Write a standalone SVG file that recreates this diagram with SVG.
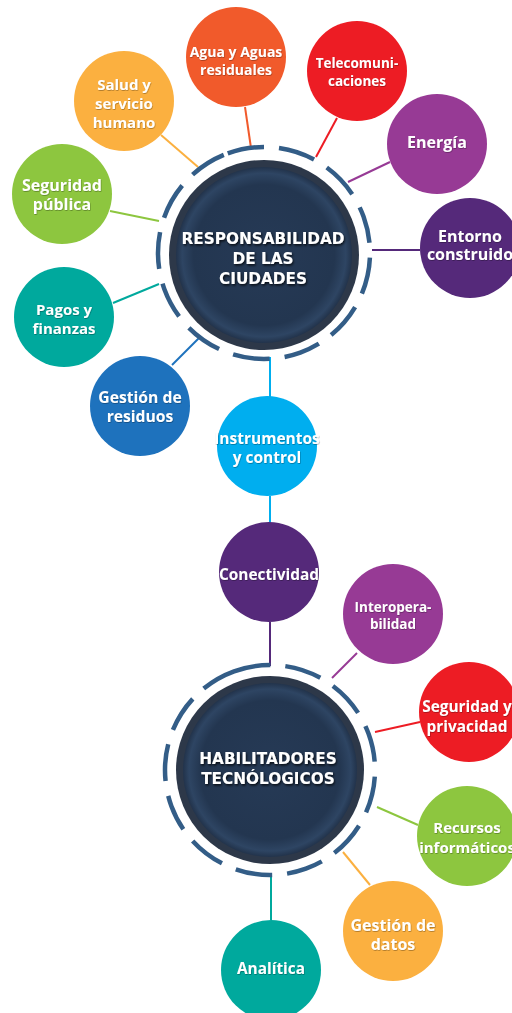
<svg xmlns="http://www.w3.org/2000/svg" width="512" height="1013" viewBox="0 0 512 1013">
<defs>
<radialGradient id="hubFill" cx="0.5" cy="0.5" r="0.5">
<stop offset="0" stop-color="#263a56"/>
<stop offset="0.8" stop-color="#233650"/>
<stop offset="0.93" stop-color="#2e4563"/>
<stop offset="1" stop-color="#22334b"/>
</radialGradient>
<filter id="ts" x="-10%" y="-30%" width="120%" height="160%">
<feDropShadow dx="1" dy="1.5" stdDeviation="1" flood-color="#000" flood-opacity="0.8"/>
</filter>
<filter id="ts2" x="-10%" y="-30%" width="120%" height="160%">
<feDropShadow dx="0.5" dy="0.8" stdDeviation="0.6" flood-color="#000" flood-opacity="0.35"/>
</filter>
</defs>
<style>
.ring{fill:none;stroke:#335d87;stroke-width:4.5;}
.rim{fill:#2d3849;}
.hubtxt{font-family:"DejaVu Sans",Verdana,sans-serif;font-weight:bold;font-size:15.3px;fill:#fff;text-anchor:middle;filter:url(#ts);}
.t{font-family:"Open Sans","Noto Sans",sans-serif;font-weight:bold;font-size:15px;fill:#fff;text-anchor:middle;filter:url(#ts2);}
.c{stroke-width:2;fill:none;}
</style>
<rect width="512" height="1013" fill="#fff"/>
<g id="connectors">
<line class="c" x1="245" y1="107" x2="251" y2="148" stroke="#f15a2b"/>
<line class="c" x1="337" y1="118" x2="316" y2="157" stroke="#ed1c24"/>
<line class="c" x1="161" y1="135" x2="198" y2="167" stroke="#fbb040"/>
<line class="c" x1="390" y1="162" x2="348" y2="182" stroke="#973a95"/>
<line class="c" x1="372" y1="250" x2="420" y2="250" stroke="#55297a"/>
<line class="c" x1="110" y1="211" x2="159" y2="221" stroke="#8dc63f"/>
<line class="c" x1="113" y1="303" x2="159" y2="284" stroke="#00a99d"/>
<line class="c" x1="172" y1="365" x2="200" y2="337" stroke="#1e72bd"/>
<line class="c" x1="270" y1="357" x2="270" y2="397" stroke="#00aeef"/>
<line class="c" x1="270" y1="496" x2="270" y2="523" stroke="#00aeef"/>
<line class="c" x1="270" y1="622" x2="270" y2="666" stroke="#55297a"/>
<line class="c" x1="357" y1="653" x2="332" y2="678" stroke="#973a95"/>
<line class="c" x1="420" y1="722" x2="375" y2="732" stroke="#ed1c24"/>
<line class="c" x1="418" y1="825" x2="377" y2="807" stroke="#8dc63f"/>
<line class="c" x1="343" y1="852" x2="370" y2="885" stroke="#fbb040"/>
<line class="c" x1="271" y1="875" x2="271" y2="920" stroke="#00a99d"/>
</g>
<g id="hub-responsabilidad">
<circle class="ring" cx="264" cy="253" r="106" stroke-dasharray="37 15" transform="rotate(-110 264 253)"/>
<circle class="rim" cx="264" cy="255" r="95"/>
<circle cx="264" cy="255" r="88" fill="url(#hubFill)"/>
<text class="hubtxt" x="263" y="244">RESPONSABILIDAD</text>
<text class="hubtxt" x="263" y="264">DE LAS</text>
<text class="hubtxt" x="263" y="284">CIUDADES</text>
</g>
<g id="hub-habilitadores">
<circle class="ring" cx="270" cy="770" r="105" stroke-dasharray="37 15" transform="rotate(-110 270 770)"/>
<circle class="rim" cx="270" cy="770" r="94"/>
<circle cx="270" cy="770" r="87" fill="url(#hubFill)"/>
<text class="hubtxt" x="268" y="764">HABILITADORES</text>
<text class="hubtxt" x="268" y="784">TECNÓLOGICOS</text>
</g>
<g id="agua">
<circle cx="236" cy="57" r="50" fill="#f15a2b"/>
<text class="t" x="236" y="57" style="font-size:14px">Agua y Aguas</text>
<text class="t" x="236" y="75" style="font-size:14px">residuales</text>
</g>
<g id="telecom">
<circle cx="357" cy="71" r="50" fill="#ed1c24"/>
<text class="t" x="357" y="68" style="font-size:13.5px">Telecomuni-</text>
<text class="t" x="357" y="86" style="font-size:13.5px">caciones</text>
</g>
<g id="salud">
<circle cx="124" cy="101" r="50" fill="#fbb040"/>
<text class="t" x="124" y="90">Salud y</text>
<text class="t" x="124" y="109">servicio</text>
<text class="t" x="124" y="128">humano</text>
</g>
<g id="energia">
<circle cx="437" cy="144" r="50" fill="#973a95"/>
<text class="t" x="437" y="148" style="font-size:16px">Energía</text>
</g>
<g id="entorno">
<circle cx="470" cy="248" r="50" fill="#55297a"/>
<text class="t" x="470" y="242" style="font-size:16px">Entorno</text>
<text class="t" x="470" y="260" style="font-size:16px">construido</text>
</g>
<g id="seguridad-publica">
<circle cx="62" cy="194" r="50" fill="#8dc63f"/>
<text class="t" x="62" y="191" style="font-size:16px">Seguridad</text>
<text class="t" x="62" y="210" style="font-size:16px">pública</text>
</g>
<g id="pagos">
<circle cx="64" cy="317" r="50" fill="#00a99d"/>
<text class="t" x="64" y="315">Pagos y</text>
<text class="t" x="64" y="334">finanzas</text>
</g>
<g id="residuos">
<circle cx="140" cy="406" r="50" fill="#1e72bd"/>
<text class="t" x="140" y="403" style="font-size:15.7px">Gestión de</text>
<text class="t" x="140" y="422" style="font-size:15.7px">residuos</text>
</g>
<g id="instrumentos">
<circle cx="267" cy="446" r="50" fill="#00aeef"/>
<text class="t" x="267" y="444" style="font-size:15.5px">Instrumentos</text>
<text class="t" x="267" y="463" style="font-size:15.5px">y control</text>
</g>
<g id="conectividad">
<circle cx="269" cy="572" r="50" fill="#55297a"/>
<text class="t" x="269" y="580" style="font-size:15.4px">Conectividad</text>
</g>
<g id="interoperabilidad">
<circle cx="393" cy="614" r="50" fill="#973a95"/>
<text class="t" x="393" y="612" style="font-size:13.5px">Interopera-</text>
<text class="t" x="393" y="629" style="font-size:13.5px">bilidad</text>
</g>
<g id="seguridad-privacidad">
<circle cx="469" cy="712" r="50" fill="#ed1c24"/>
<text class="t" x="467" y="712" style="font-size:15.4px">Seguridad y</text>
<text class="t" x="467" y="732" style="font-size:15.4px">privacidad</text>
</g>
<g id="recursos">
<circle cx="467" cy="836" r="50" fill="#8dc63f"/>
<text class="t" x="467" y="833">Recursos</text>
<text class="t" x="467" y="853">informáticos</text>
</g>
<g id="gestion-datos">
<circle cx="393" cy="931" r="50" fill="#fbb040"/>
<text class="t" x="393" y="931" style="font-size:16px">Gestión de</text>
<text class="t" x="393" y="950" style="font-size:16px">datos</text>
</g>
<g id="analitica">
<circle cx="271" cy="970" r="50" fill="#00a99d"/>
<text class="t" x="271" y="974" style="font-size:15.4px">Analítica</text>
</g>
</svg>
